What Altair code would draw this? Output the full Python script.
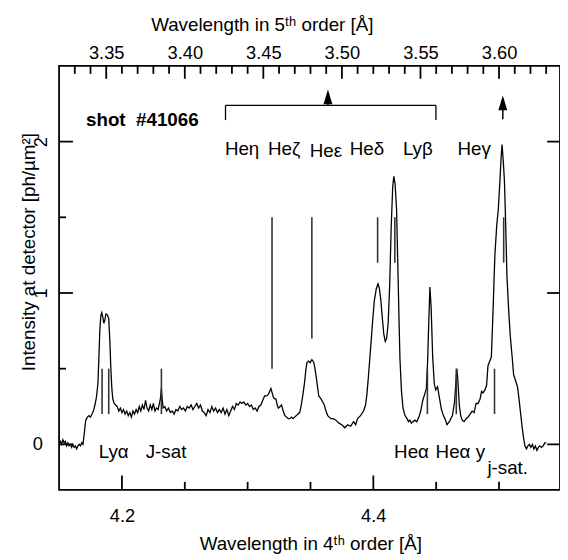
import altair as alt
import pandas as pd

FONT = "Liberation Sans"

# ---------------- spectrum (wavelength in 4th order [Å], intensity [ph/µm²]) -------------
SEG_LYA = [
    (4.1500, 0.01), (4.1510, 0.02), (4.1520, 0.00), (4.1530, 0.03), (4.1540, 0.01),
    (4.1550, 0.02), (4.1560, -0.01), (4.1570, 0.01), (4.1580, -0.01), (4.1590, 0.00),
    (4.1600, -0.02), (4.1610, 0.00), (4.1620, -0.02), (4.1630, -0.01), (4.1640, -0.03),
    (4.1650, -0.01), (4.1660, 0.00), (4.1670, -0.01), (4.1680, 0.01), (4.1690, 0.00),
    (4.1700, 0.07), (4.1712, 0.16), (4.1725, 0.18), (4.1738, 0.19), (4.1750, 0.18),
    (4.1762, 0.20), (4.1773, 0.22), (4.1785, 0.26), (4.1797, 0.31), (4.1809, 0.40),
    (4.1817, 0.58), (4.1824, 0.75), (4.1832, 0.85), (4.1840, 0.87), (4.1848, 0.84),
    (4.1856, 0.80), (4.1864, 0.82), (4.1872, 0.86), (4.1879, 0.86), (4.1887, 0.85),
    (4.1895, 0.83), (4.1903, 0.70), (4.1911, 0.52), (4.1919, 0.38), (4.1927, 0.30),
    (4.1938, 0.27), (4.1950, 0.26),
]
SEG_JSAT = [
    (4.1962, 0.25), (4.1975, 0.22), (4.1988, 0.24), (4.2000, 0.21), (4.2013, 0.23),
    (4.2025, 0.20), (4.2038, 0.22), (4.2050, 0.19), (4.2063, 0.21), (4.2075, 0.18),
    (4.2088, 0.22), (4.2100, 0.20), (4.2113, 0.23), (4.2125, 0.21), (4.2138, 0.25),
    (4.2150, 0.22), (4.2163, 0.26), (4.2175, 0.23), (4.2188, 0.29), (4.2200, 0.24),
    (4.2213, 0.22), (4.2225, 0.26), (4.2238, 0.23), (4.2250, 0.27), (4.2263, 0.22),
    (4.2275, 0.24), (4.2288, 0.23), (4.2298, 0.27), (4.2306, 0.30), (4.2314, 0.37),
    (4.2320, 0.30), (4.2328, 0.24), (4.2341, 0.25),
]
SEG_BASE = [
    (4.2355, 0.22), (4.2370, 0.24), (4.2385, 0.21), (4.2400, 0.22), (4.2415, 0.20),
    (4.2430, 0.23), (4.2445, 0.22), (4.2460, 0.25), (4.2475, 0.23), (4.2490, 0.24),
    (4.2505, 0.22), (4.2520, 0.25), (4.2535, 0.24), (4.2550, 0.26), (4.2565, 0.23),
    (4.2580, 0.25), (4.2595, 0.27), (4.2610, 0.24), (4.2625, 0.26), (4.2640, 0.22),
    (4.2655, 0.21), (4.2670, 0.19), (4.2685, 0.23), (4.2700, 0.21), (4.2715, 0.25),
    (4.2730, 0.22), (4.2745, 0.24), (4.2760, 0.21), (4.2775, 0.23), (4.2790, 0.21),
    (4.2805, 0.24), (4.2820, 0.20), (4.2835, 0.23), (4.2850, 0.19), (4.2865, 0.22),
    (4.2880, 0.25), (4.2895, 0.23), (4.2910, 0.27), (4.2925, 0.26), (4.2940, 0.28),
    (4.2955, 0.27), (4.2970, 0.28), (4.2985, 0.26), (4.3000, 0.27), (4.3015, 0.25),
    (4.3030, 0.26), (4.3045, 0.23), (4.3060, 0.24), (4.3075, 0.22), (4.3090, 0.25),
    (4.3105, 0.26), (4.3120, 0.29), (4.3135, 0.32), (4.3150, 0.32), (4.3165, 0.33),
    (4.3175, 0.35), (4.3185, 0.37), (4.3195, 0.34), (4.3205, 0.31), (4.3215, 0.30),
    (4.3225, 0.30), (4.3235, 0.26), (4.3245, 0.24), (4.3258, 0.25), (4.3270, 0.26),
    (4.3283, 0.22), (4.3296, 0.19), (4.3310, 0.18), (4.3323, 0.17), (4.3335, 0.17),
    (4.3350, 0.18), (4.3362, 0.17), (4.3374, 0.18), (4.3388, 0.19), (4.3400, 0.20),
    (4.3414, 0.21), (4.3427, 0.26), (4.3440, 0.33), (4.3453, 0.41), (4.3463, 0.49),
    (4.3472, 0.54), (4.3485, 0.55), (4.3498, 0.54), (4.3511, 0.56), (4.3520, 0.55),
    (4.3527, 0.54), (4.3536, 0.50), (4.3545, 0.45), (4.3556, 0.38), (4.3566, 0.32),
    (4.3575, 0.31), (4.3584, 0.30), (4.3597, 0.28), (4.3610, 0.26), (4.3623, 0.22),
    (4.3637, 0.19), (4.3650, 0.18), (4.3663, 0.17), (4.3680, 0.17), (4.3702, 0.16),
]
SEG_HE = [
    (4.3726, 0.14), (4.3749, 0.13), (4.3773, 0.11), (4.3796, 0.13), (4.3820, 0.12),
    (4.3843, 0.15), (4.3859, 0.13), (4.3875, 0.17), (4.3898, 0.19), (4.3922, 0.22),
    (4.3938, 0.26), (4.3949, 0.33), (4.3961, 0.45), (4.3977, 0.62), (4.3993, 0.80),
    (4.4008, 0.95), (4.4024, 1.03), (4.4037, 1.06), (4.4048, 1.03), (4.4059, 0.96),
    (4.4071, 0.84), (4.4083, 0.73), (4.4095, 0.68), (4.4106, 0.70), (4.4118, 0.80),
    (4.4130, 1.05), (4.4142, 1.43), (4.4154, 1.70), (4.4163, 1.77), (4.4173, 1.72),
    (4.4185, 1.55), (4.4197, 1.10), (4.4205, 0.80), (4.4212, 0.56), (4.4224, 0.35),
    (4.4236, 0.24), (4.4252, 0.19), (4.4268, 0.17), (4.4280, 0.15), (4.4291, 0.16),
    (4.4303, 0.14), (4.4315, 0.15), (4.4330, 0.16), (4.4346, 0.15), (4.4362, 0.18),
    (4.4377, 0.22), (4.4393, 0.29), (4.4408, 0.33), (4.4422, 0.37), (4.4432, 0.55),
    (4.4440, 0.78), (4.4450, 1.04), (4.4460, 0.90), (4.4472, 0.58), (4.4485, 0.40),
    (4.4496, 0.36), (4.4511, 0.38), (4.4527, 0.30), (4.4542, 0.23), (4.4558, 0.19),
    (4.4574, 0.16), (4.4586, 0.13), (4.4605, 0.15), (4.4629, 0.19), (4.4646, 0.28),
    (4.4656, 0.40), (4.4664, 0.50), (4.4672, 0.43), (4.4684, 0.26), (4.4695, 0.19),
    (4.4707, 0.16), (4.4722, 0.15), (4.4738, 0.17), (4.4754, 0.18), (4.4770, 0.20),
    (4.4786, 0.22), (4.4802, 0.21), (4.4817, 0.27), (4.4833, 0.27), (4.4849, 0.30),
    (4.4861, 0.35), (4.4872, 0.34), (4.4888, 0.36), (4.4901, 0.39), (4.4912, 0.52),
    (4.4927, 0.55), (4.4939, 0.58), (4.4951, 0.85), (4.4967, 1.25), (4.4982, 1.45),
    (4.4994, 1.55), (4.5007, 1.74), (4.5017, 1.90), (4.5024, 1.98), (4.5033, 1.88),
    (4.5043, 1.74), (4.5053, 1.45), (4.5063, 1.11), (4.5077, 0.88), (4.5090, 0.71),
    (4.5104, 0.58), (4.5116, 0.46), (4.5132, 0.42), (4.5147, 0.38), (4.5159, 0.30),
    (4.5171, 0.21), (4.5183, 0.12), (4.5194, 0.05), (4.5206, -0.01), (4.5218, -0.03),
    (4.5230, -0.01), (4.5242, 0.00), (4.5253, -0.02), (4.5266, 0.00), (4.5277, -0.03),
    (4.5289, -0.01), (4.5301, -0.04), (4.5313, -0.02), (4.5324, -0.01), (4.5337, -0.02),
    (4.5352, -0.01), (4.5364, 0.01), (4.5376, 0.01),
]

# ---------------- line markers ----------------
MARK_POS = [4.1842, 4.1895, 4.2314, 4.3194, 4.3511, 4.4034, 4.4171, 4.4430, 4.4660, 4.4964, 4.5037]
MARK_LOW = [0.2, 0.2, 0.2, 0.5, 0.7, 1.2, 1.2, 0.2, 0.2, 0.2, 1.2]
MARK_HIGH = [0.5, 0.5, 0.5, 1.5, 1.5, 1.5, 1.5, 0.5, 0.5, 0.5, 1.5]

UPPER_LABELS = ["Heη", "Heζ", "Heε", "Heδ", "Lyβ", "Heγ"]
UPPER_X = [4.2956, 4.3290, 4.3623, 4.3949, 4.4354, 4.4802]
UPPER_Y = [1.948, 1.948, 1.935, 1.948, 1.948, 1.948]

LOWER_LABELS = ["Lyα", "J-sat", "Heα", "Heα y", "j-sat."]
LOWER_X = [4.1934, 4.2351, 4.4304, 4.4692, 4.5069]
LOWER_Y = [-0.048, -0.048, -0.048, -0.048, -0.157]

SHOT_TEXT = "shot\u00a0\u00a0#41066"
SHOT_X, SHOT_Y = 4.1714, 2.142

BRACKET_X = [4.2824, 4.4498]
BRACKET_TOP, BRACKET_BOTTOM = 2.24, 2.142
ARROW_X = [4.3639, 4.5030]
ARROW_BASE = [2.24, 2.148]
ARROW_HEAD = [2.295, 2.256]

# ---------------- axes ----------------
X_DOMAIN = [4.15, 4.5485]
X5_DOMAIN = [3.32, 3.6388]
Y_DOMAIN = [-0.3, 2.5]
BOTTOM_LABELS = [4.2, 4.4]
BOTTOM_MINOR = [4.25, 4.3, 4.35, 4.45, 4.5]
TOP_MAJOR = [3.35, 3.40, 3.45, 3.50, 3.55, 3.60]
TOP_MINOR = [3.33, 3.34, 3.36, 3.37, 3.38, 3.39, 3.41, 3.42, 3.43, 3.44, 3.46, 3.47,
             3.48, 3.49, 3.51, 3.52, 3.53, 3.54, 3.56, 3.57, 3.58, 3.59, 3.61, 3.62, 3.63]
Y_MAJOR = [0, 1, 2]
Y_MINOR = [0.5, 1.5]

W, H = 507, 429
LABEL_FS = 18.5
TITLE_FS = 19
TEXT_FS = 19

xscale = alt.Scale(domain=X_DOMAIN, nice=False, zero=False)
yscale = alt.Scale(domain=Y_DOMAIN, nice=False, zero=False)
x5scale = alt.Scale(domain=X5_DOMAIN, nice=False, zero=False)

x_axis = alt.Axis(orient="bottom", values=BOTTOM_LABELS, format=".1f", ticks=False, tickSize=0,
                  domain=False, grid=False, labelPadding=17,
                  title="Wavelength in 4ᵗʰ order [Å]", titleX=254.3, titleY=54.4,
                  titleAlign="center", titleBaseline="middle", titleAngle=0)
y_axis = alt.Axis(values=Y_MAJOR, format="d", labelExpr="datum.value == 0 ? '' : datum.label",
                  labelAngle=270, labelAlign="center", labelBaseline="bottom",
                  ticks=False, tickSize=0, domain=False, grid=False, labelPadding=9,
                  title="Intensity at detector [ph/µm²]", titleX=-31, titleY=188,
                  titleAlign="center", titleBaseline="middle", titleAngle=270)
x5_axis = alt.Axis(orient="top", values=TOP_MAJOR, format=".2f", ticks=False, tickSize=0,
                   domain=False, grid=False, labelPadding=4,
                   title="Wavelength in 5ᵗʰ order [Å]", titleX=205.2, titleY=-41.6,
                   titleAlign="center", titleBaseline="middle", titleAngle=0)


def X(field="lam"):
    return alt.X(field, type="quantitative", scale=xscale, axis=x_axis)


def Y(field="I"):
    return alt.Y(field, type="quantitative", scale=yscale, axis=y_axis)


spec_rows = [{"lam": w, "I": i} for seg in (SEG_LYA, SEG_JSAT, SEG_BASE, SEG_HE) for w, i in seg]
spec_df = pd.DataFrame(spec_rows)

curve = alt.Chart(spec_df).mark_line(color="black", strokeWidth=1.3).encode(x=X(), y=Y())

markers = alt.Chart(pd.DataFrame({"lam": MARK_POS, "I": MARK_LOW, "I2": MARK_HIGH})).mark_rule(
    color="#333333", strokeWidth=1.6).encode(x=X(), y=Y(), y2=alt.Y2("I2"))

upper_txt = alt.Chart(pd.DataFrame({"lam": UPPER_X, "I": UPPER_Y, "t": UPPER_LABELS})).mark_text(
    font=FONT, fontSize=TEXT_FS, color="black", align="center", baseline="middle").encode(x=X(), y=Y(), text="t:N")
lower_txt = alt.Chart(pd.DataFrame({"lam": LOWER_X, "I": LOWER_Y, "t": LOWER_LABELS})).mark_text(
    font=FONT, fontSize=TEXT_FS, color="black", align="center", baseline="middle").encode(x=X(), y=Y(), text="t:N")
shot_txt = alt.Chart(pd.DataFrame({"lam": [SHOT_X], "I": [SHOT_Y], "t": [SHOT_TEXT]})).mark_text(
    font=FONT, fontSize=TEXT_FS, fontWeight="bold", color="black", align="left", baseline="middle").encode(
    x=X(), y=Y(), text="t:N")
zero_txt = alt.Chart(pd.DataFrame({"I": [0], "t": ["0"]})).mark_text(
    font=FONT, fontSize=LABEL_FS, color="black", align="center", baseline="middle").encode(
    x=alt.value(-21.4), y=Y(), text="t:N")

bracket_h = alt.Chart(pd.DataFrame({"lam": [BRACKET_X[0]], "lam2": [BRACKET_X[1]], "I": [BRACKET_TOP]})).mark_rule(
    color="black", strokeWidth=1.3).encode(x=X(), x2=alt.X2("lam2"), y=Y())
bracket_v = alt.Chart(pd.DataFrame({"lam": BRACKET_X, "I": [BRACKET_BOTTOM] * 2, "I2": [BRACKET_TOP] * 2})).mark_rule(
    color="black", strokeWidth=1.3).encode(x=X(), y=Y(), y2=alt.Y2("I2"))
arrow_shaft = alt.Chart(pd.DataFrame({"lam": ARROW_X, "I": ARROW_BASE, "I2": ARROW_HEAD})).mark_rule(
    color="black", strokeWidth=1.5).encode(x=X(), y=Y(), y2=alt.Y2("I2"))
arrow_head = alt.Chart(pd.DataFrame({"lam": ARROW_X, "I": ARROW_HEAD})).mark_point(
    shape="M0,-1L0.6,1L-0.6,1Z", filled=True, size=225, color="black", opacity=1).encode(x=X(), y=Y())

TICK_W = 1.8
bot_major = alt.Chart(pd.DataFrame({"lam": BOTTOM_LABELS})).mark_rule(color="black", strokeWidth=TICK_W).encode(
    x=X(), y=alt.value(H - 14.5), y2=alt.value(H))
bot_minor = alt.Chart(pd.DataFrame({"lam": BOTTOM_MINOR})).mark_rule(color="black", strokeWidth=TICK_W).encode(
    x=X(), y=alt.value(H - 8), y2=alt.value(H))
left_major = alt.Chart(pd.DataFrame({"I": Y_MAJOR})).mark_rule(color="black", strokeWidth=TICK_W).encode(
    y=Y(), x=alt.value(0), x2=alt.value(14))
left_minor = alt.Chart(pd.DataFrame({"I": Y_MINOR})).mark_rule(color="black", strokeWidth=TICK_W).encode(
    y=Y(), x=alt.value(0), x2=alt.value(7))
right_major = alt.Chart(pd.DataFrame({"I": Y_MAJOR})).mark_rule(color="black", strokeWidth=TICK_W).encode(
    y=Y(), x=alt.value(W - 13), x2=alt.value(W))

inner = alt.layer(curve, markers, upper_txt, lower_txt, shot_txt, zero_txt, bracket_h, bracket_v,
                  arrow_shaft, arrow_head, bot_major, bot_minor, left_major, left_minor, right_major)

top_major = alt.Chart(pd.DataFrame({"lam5": TOP_MAJOR})).mark_rule(color="black", strokeWidth=TICK_W).encode(
    x=alt.X("lam5", type="quantitative", scale=x5scale, axis=x5_axis), y=alt.value(0), y2=alt.value(13))
top_minor = alt.Chart(pd.DataFrame({"lam5": TOP_MINOR})).mark_rule(color="black", strokeWidth=TICK_W).encode(
    x=alt.X("lam5", type="quantitative", scale=x5scale, axis=x5_axis), y=alt.value(0), y2=alt.value(8))
top = alt.layer(top_major, top_minor)

chart = alt.layer(inner, top).resolve_scale(x="independent").properties(
    width=W, height=H,
    padding={"left": 51.7, "top": 55.3, "right": 0, "bottom": 64},
    autosize=alt.AutoSizeParams(type="none"),
    background="white",
).configure_view(stroke="black", strokeWidth=1.8).configure_axis(
    labelFont=FONT, labelFontSize=LABEL_FS, labelColor="black",
    titleFont=FONT, titleFontSize=TITLE_FS, titleFontWeight="normal", titleColor="black",
)

chart.save("out.html", embed_options={"renderer": "svg", "actions": False})
